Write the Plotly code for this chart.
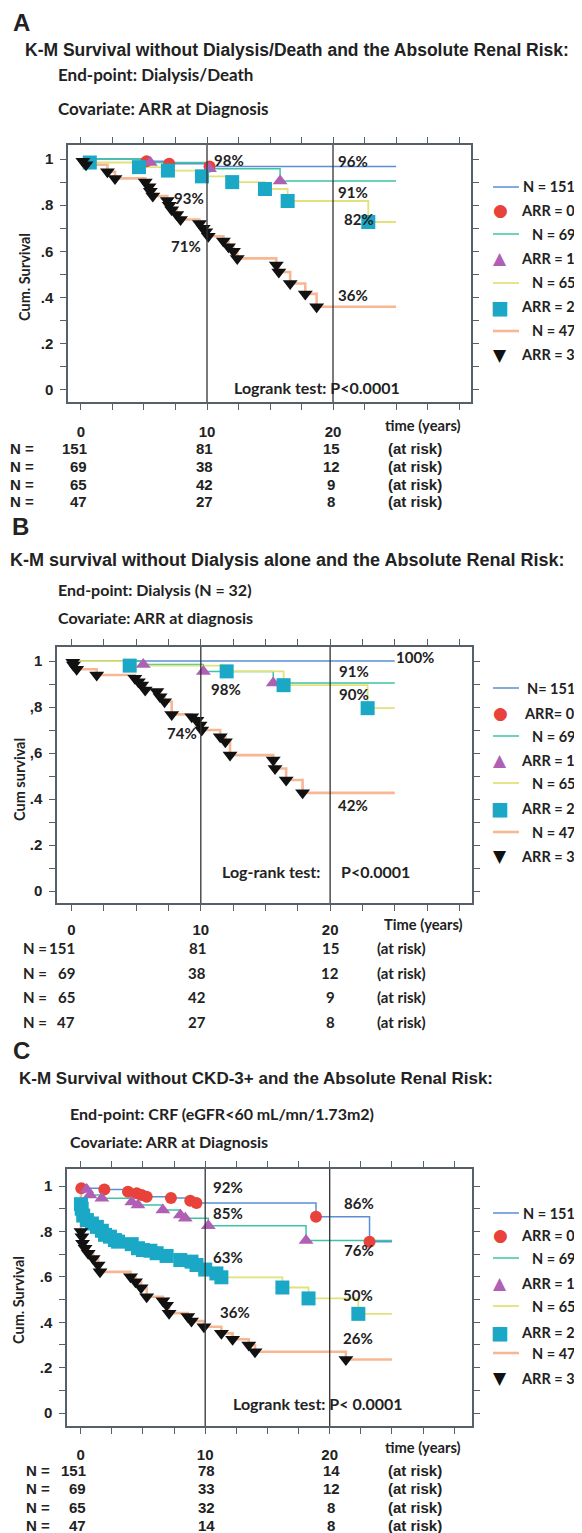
import plotly.graph_objects as go

# reference canvas is 582x1533; the page body adds an 8px margin, so every position is shifted back by 8px
W, H = 582, 1533
OFF = 8
T_END = 25

# ---------------- DATA ----------------
group_labels = ["ARR = 0", "ARR = 1", "ARR = 2", "ARR = 3"]
group_n = [151, 69, 65, 47]

# Panel A : Dialysis/Death
A_arr0_t = [5.2, 7.0, 10.2]
A_arr0_s = [0.99, 0.98, 0.968]
A_arr1_t = [5.5, 10.2, 15.8]
A_arr1_s = [0.985, 0.958, 0.905]
A_arr2_t = [0.7, 4.6, 6.9, 9.6, 12.0, 14.6, 16.4, 22.8]
A_arr2_s = [0.985, 0.965, 0.95, 0.925, 0.90, 0.87, 0.818, 0.727]
A_arr3_t = [0.15, 0.4, 2.1, 2.7, 5.1, 5.4, 5.5, 5.7, 6.85, 7.0, 7.2, 7.6, 7.9,
            9.4, 9.7, 9.9, 10.1, 11.3, 11.7, 12.1, 12.4, 15.5, 15.7, 16.6, 17.8, 18.7]
A_arr3_s = [0.99, 0.975, 0.945, 0.916, 0.90, 0.88, 0.86, 0.84, 0.82, 0.80, 0.78, 0.76, 0.738,
            0.72, 0.70, 0.685, 0.665, 0.645, 0.62, 0.60, 0.569, 0.54, 0.51, 0.46, 0.415, 0.359]
A_risk_0 = [151, 69, 65, 47]
A_risk_10 = [81, 38, 42, 27]
A_risk_20 = [15, 12, 9, 8]

# Panel B : Dialysis alone
B_arr0_t = []
B_arr0_s = []
B_arr1_t = [5.55, 10.2, 15.6]
B_arr1_s = [0.985, 0.955, 0.905]
B_arr2_t = [4.5, 12.0, 16.4, 22.9]
B_arr2_s = [0.98, 0.955, 0.895, 0.795]
B_arr3_t = [0.1, 0.15, 0.4, 1.95, 4.9, 5.17, 5.43, 5.7, 6.6, 6.85, 7.2, 7.75,
            9.3, 9.7, 9.94, 10.07, 11.5, 11.9, 12.26, 15.6, 15.74, 16.6, 17.87]
B_arr3_s = [0.995, 0.983, 0.964, 0.939, 0.925, 0.91, 0.896, 0.874, 0.867, 0.845, 0.823, 0.768,
            0.758, 0.743, 0.722, 0.70, 0.671, 0.649, 0.591, 0.57, 0.533, 0.483, 0.427]
B_risk_0 = [151, 69, 65, 47]
B_risk_10 = [81, 38, 42, 27]
B_risk_20 = [15, 12, 9, 8]

# Panel C : CKD-3+
C_arr0_t = [0.05, 1.9, 3.8, 4.5, 4.9, 5.3, 7.25, 8.8, 9.3, 18.9, 23.2]
C_arr0_s = [0.99, 0.985, 0.975, 0.968, 0.96, 0.953, 0.947, 0.935, 0.925, 0.865, 0.755]
C_arr1_t = [0.48, 0.75, 1.7, 4.1, 4.6, 6.6, 8.0, 8.4, 10.25, 18.1]
C_arr1_s = [0.985, 0.96, 0.946, 0.93, 0.916, 0.894, 0.872, 0.858, 0.825, 0.76]
C_arr2_t = [0.02, 0.08, 0.2, 0.5, 0.9, 1.3, 1.7, 1.95, 2.35, 2.75, 3.0, 4.1, 4.6, 5.0,
            5.6, 6.1, 6.9, 8.0, 8.9, 9.3, 10.0, 10.9, 11.3, 16.2, 18.3, 22.3]
C_arr2_s = [0.92, 0.90, 0.87, 0.85, 0.835, 0.82, 0.803, 0.785, 0.777, 0.762, 0.755, 0.744, 0.726, 0.718,
            0.715, 0.704, 0.692, 0.674, 0.667, 0.652, 0.632, 0.615, 0.598, 0.553, 0.505, 0.437]
C_arr3_t = [0.02, 0.1, 0.15, 0.35, 0.6, 1.0, 1.4, 1.55, 4.0, 4.4, 4.85, 5.3, 6.6, 6.9, 7.1,
            8.6, 8.9, 9.9, 11.3, 12.2, 13.5, 14.0, 21.3]
C_arr3_s = [0.80, 0.777, 0.748, 0.726, 0.704, 0.681, 0.652, 0.622, 0.60, 0.578, 0.552, 0.512, 0.495, 0.475, 0.44,
            0.425, 0.405, 0.38, 0.351, 0.325, 0.30, 0.27, 0.236]
C_risk_0 = [151, 69, 65, 47]
C_risk_10 = [78, 33, 32, 14]
C_risk_20 = [14, 12, 8, 8]

x_tickvals = [0, 2.5, 5, 7.5, 10, 12.5, 15, 17.5, 20, 22.5, 25, 27.5, 30]
x_ticktext = ["0", "", "", "", "10", "", "", "", "20", "", "", "", ""]
y_tickvals = [0, 0.1, 0.2, 0.3, 0.4, 0.5, 0.6, 0.7, 0.8, 0.9, 1.0]
y_ticktext_A = ["0", "", ".2", "", ".4", "", ".6", "", ".8", "", "1"]
y_ticktext_B = ["0", "", ".2", "", ".4", "", ",6", "", ",8", "", "1"]
y_ticktext_C = ["0", "", ".2", "", ".4", "", ".6", "", ".8", "", "1"]

# ---------------- STYLE ----------------
ARIAL = "Liberation Sans, Arial, sans-serif"
CALIBRI = "Lato, Carlito, Calibri, sans-serif"
SYM = "DejaVu Sans, sans-serif"
TXT = "#222222"
AX = "#56606a"
LINE_COL = ["#5a8fd6", "#3cc4a4", "#e2e27a", "#f6b894"]
LINE_W = [1.5, 1.5, 1.8, 2.6]
MK_COL = ["#e8423a", "#b060b4", "#1aa8c6", "#111111"]
MK_SYM = ["circle", "triangle-up", "square", "triangle-down"]
MK_SIZE = [12, 13, 14, 13]
MK_GLYPH = ["\u25CF", "\u25B2", "\u25A0", "\u25BC"]


def px(x):
    return (x - OFF) / W


def py(y):
    return 1 - (y - OFF) / H


def km_curve(t, s):
    return [0] + list(t) + [T_END], [1.0] + list(s) + [s[-1] if s else 1.0]


panels = [
    dict(key="", data=[(A_arr0_t, A_arr0_s), (A_arr1_t, A_arr1_s), (A_arr2_t, A_arr2_s), (A_arr3_t, A_arr3_s)],
         dom_x=(68, 471), dom_y=(145, 402), xr=(-1.03, 30.95), yr=(-0.054, 1.061), ytext=y_ticktext_A, so=9),
    dict(key="2", data=[(B_arr0_t, B_arr0_s), (B_arr1_t, B_arr1_s), (B_arr2_t, B_arr2_s), (B_arr3_t, B_arr3_s)],
         dom_x=(57, 472), dom_y=(647, 903), xr=(-1.12, 30.97), yr=(-0.052, 1.061), ytext=y_ticktext_B, so=6),
    dict(key="3", data=[(C_arr0_t, C_arr0_s), (C_arr1_t, C_arr1_s), (C_arr2_t, C_arr2_s), (C_arr3_t, C_arr3_s)],
         dom_x=(67, 472), dom_y=(1169, 1426), xr=(-1.1, 31.43), yr=(-0.057, 1.075), ytext=y_ticktext_C, so=8),
]

fig = go.Figure()
shapes = []
annotations = []


def ann(text, x, y, size, family=CALIBRI, xanchor="left", xref="paper", yref="paper", angle=0, color=TXT):
    annotations.append(dict(text=text, x=x, y=y, xref=xref, yref=yref, xanchor=xanchor, yanchor="middle",
                            showarrow=False, textangle=angle,
                            font=dict(family=family, size=size, color=color, weight="bold")))


layout_axes = {}
for p in panels:
    k = p["key"]
    xa, ya = "x" + k, "y" + k
    for gi, (t, s) in enumerate(p["data"]):
        cx, cy = km_curve(t, s)
        fig.add_trace(go.Scatter(x=cx, y=cy, mode="lines", line=dict(color=LINE_COL[gi], width=LINE_W[gi], shape="hv"),
                                 xaxis=xa, yaxis=ya, showlegend=False, hoverinfo="skip"))
    for gi, (t, s) in enumerate(p["data"]):
        if t:
            fig.add_trace(go.Scatter(x=t, y=s, mode="markers",
                                     marker=dict(symbol=MK_SYM[gi], color=MK_COL[gi], size=MK_SIZE[gi], line=dict(width=0)),
                                     xaxis=xa, yaxis=ya, showlegend=False, hoverinfo="skip"))
    common = dict(showline=True, linecolor=AX, linewidth=1.5, mirror="ticks", ticks="outside", ticklen=6,
                  tickwidth=1.2, tickcolor=AX, showgrid=False, zeroline=False, fixedrange=True,
                  tickfont=dict(family=ARIAL, size=15, color=TXT, weight="bold"))
    layout_axes["xaxis" + k] = dict(common, domain=[px(p["dom_x"][0]), px(p["dom_x"][1])], range=list(p["xr"]),
                                    anchor=ya, tickmode="array", tickvals=x_tickvals, ticktext=x_ticktext,
                                    ticklabelstandoff=p["so"])
    layout_axes["yaxis" + k] = dict(common, domain=[py(p["dom_y"][1]), py(p["dom_y"][0])], range=list(p["yr"]),
                                    anchor=xa, tickmode="array", tickvals=y_tickvals, ticktext=p["ytext"],
                                    ticklabelstandoff=4)
    for tv in (10, 20):
        shapes.append(dict(type="line", xref=xa, yref=ya + " domain", x0=tv, x1=tv, y0=0, y1=1,
                           line=dict(color="#333333", width=1.3)))

PCT = 15
# ---------------- TEXT: panel A ----------------
ann("A", px(11), py(22), 24, ARIAL)
ann("K-M Survival without Dialysis/Death and the Absolute Renal Risk:", px(23), py(50), 17.5, ARIAL)
ann("End-point: Dialysis/Death", px(56), py(75), 17)
ann("Covariate: ARR at Diagnosis", px(56), py(108), 17)
ann("Cum. Survival", px(24), py(277), 14.5, angle=-90, xanchor="center")
for txt, t, y in [("98%", 10.4, 0.995), ("96%", 20.2, 0.99), ("93%", 7.2, 0.83), ("91%", 20.2, 0.858),
                  ("82%", 20.7, 0.738), ("71%", 7.0, 0.622), ("36%", 20.2, 0.41)]:
    ann(txt, t, y, PCT, xref="x", yref="y")
ann("Logrank test: P<0.0001", 18.7, 0.01, 16, xref="x", yref="y", xanchor="center")
ann("time (years)", px(423), py(425), 14.7, xanchor="center")

# ---------------- TEXT: panel B ----------------
ann("B", px(10), py(527), 24, ARIAL)
ann("K-M survival without Dialysis alone and the Absolute Renal Risk:", px(8), py(560), 18, ARIAL)
ann("End-point: Dialysis (N = 32)", px(56), py(589), 16)
ann("Covariate: ARR at diagnosis", px(56), py(617), 16)
ann("Cum survival", px(19), py(780), 14.5, angle=-90, xanchor="center")
for txt, t, y in [("100%", 24.9, 1.019), ("91%", 20.5, 0.958), ("98%", 10.6, 0.88), ("90%", 20.5, 0.857),
                  ("74%", 7.2, 0.688), ("42%", 20.45, 0.374)]:
    ann(txt, t, y, PCT, xref="x2", yref="y2")
ann("Log-rank test:", 15.4, 0.084, 16, xref="x2", yref="y2", xanchor="center")
ann("P<0.0001", 23.5, 0.084, 16, xref="x2", yref="y2", xanchor="center")
ann("Time (years)", px(423), py(924), 14.7, xanchor="center")

# ---------------- TEXT: panel C ----------------
ann("C", px(11), py(1050), 24, ARIAL)
ann("K-M Survival without CKD-3+ and the Absolute Renal Risk:", px(17), py(1078), 17, ARIAL)
ann("End-point: CRF (eGFR<60 mL/mn/1.73m2)", px(68), py(1113), 16)
ann("Covariate: ARR at Diagnosis", px(68), py(1141), 16)
ann("Cum. Survival", px(18), py(1300), 14.5, angle=-90, xanchor="center")
for txt, t, y in [("92%", 10.5, 0.997), ("86%", 21.0, 0.925), ("85%", 10.5, 0.88), ("76%", 21.0, 0.72),
                  ("63%", 10.5, 0.688), ("50%", 20.9, 0.52), ("36%", 11.0, 0.446), ("26%", 20.9, 0.33)]:
    ann(txt, t, y, PCT, xref="x3", yref="y3")
ann("Logrank test: P< 0.0001", 19.1, 0.04, 16, xref="x3", yref="y3", xanchor="center")
ann("time (years)", px(423), py(1447), 14.7, xanchor="center")

# ---------------- LEGENDS ----------------
legend_specs = [
    ([187, 210, 234, 258, 283, 307, 331, 355], ["N = 151", "ARR = 0", "N = 69", "ARR = 1", "N = 65", "ARR = 2", "N = 47", "ARR = 3"]),
    ([688, 713, 736, 760, 783, 808, 832, 856], ["N= 151", "ARR= 0", "N = 69", "ARR = 1", "N = 65", "ARR = 2", "N = 47", "ARR = 3"]),
    ([1213, 1235, 1258, 1283, 1306, 1332, 1353, 1378], ["N = 151", "ARR = 0", "N = 69", "ARR = 1", "N = 65", "ARR = 2", "N = 47", "ARR = 3"]),
]
for ys, texts in legend_specs:
    for i, (yy, tx) in enumerate(zip(ys, texts)):
        gi = i // 2
        if i % 2 == 0:
            shapes.append(dict(type="line", xref="paper", yref="paper", x0=px(493), x1=px(519), y0=py(yy), y1=py(yy),
                               line=dict(color=LINE_COL[gi], width=LINE_W[gi])))
        else:
            annotations.append(dict(text=MK_GLYPH[gi], x=px(500), y=py(yy), xref="paper", yref="paper",
                                    xanchor="center", yanchor="middle", showarrow=False,
                                    font=dict(family=SYM, size=17 if gi != 2 else 19, color=MK_COL[gi])))
        ann(tx, px(577), py(yy), 14.5, xanchor="right")

# ---------------- AT-RISK TABLES ----------------
risk_specs = [
    (A_risk_0, A_risk_10, A_risk_20, [448, 466, 484, 501], 8, 89, 204, 331, 386, ARIAL, 15),
    (B_risk_0, B_risk_10, B_risk_20, [948, 973, 997, 1022], 21, 77, 197, 330, 375, CALIBRI, 15),
    (C_risk_0, C_risk_10, C_risk_20, [1470, 1488, 1507, 1525], 24, 88, 206, 331, 386, ARIAL, 15),
]
for r0, r10, r20, rows, xn, x0r, x10, x20, xr, fam, sz in risk_specs:
    for i, yy in enumerate(rows):
        ann("N =", px(xn), py(yy), sz, fam)
        ann(str(r0[i]), px(x0r), py(yy), sz, fam, xanchor="right")
        ann(str(r10[i]), px(x10), py(yy), sz, fam, xanchor="center")
        ann(str(r20[i]), px(x20), py(yy), sz, fam, xanchor="center")
        ann("(at risk)", px(xr), py(yy), sz, fam)

fig.update_layout(width=W, height=H, autosize=False, margin=dict(l=0, r=0, t=0, b=0),
                  paper_bgcolor="white", plot_bgcolor="white", showlegend=False,
                  shapes=shapes, annotations=annotations, **layout_axes)

fig.write_html("out.html")
